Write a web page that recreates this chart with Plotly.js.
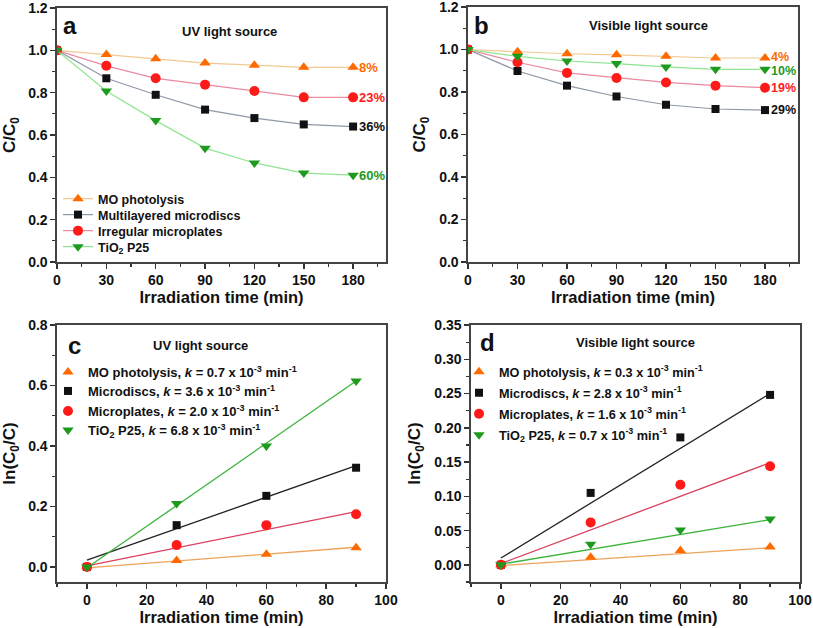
<!DOCTYPE html>
<html>
<head>
<meta charset="utf-8">
<script src="https://cdn.plot.ly/plotly-3.0.1.min.js"></script>
<style>html,body{margin:0;padding:0;background:#fff;}#chart{width:813px;height:628px;}</style>
</head>
<body>
<div id="chart"></div>
<script>
// ---------- data ----------
const time = [0, 30, 60, 90, 120, 150, 180];
const uvMO = [1.0, 0.98, 0.96, 0.94, 0.93, 0.92, 0.92];
const uvDiscs = [1.0, 0.868, 0.79, 0.72, 0.68, 0.65, 0.64];
const uvPlates = [1.0, 0.927, 0.868, 0.838, 0.808, 0.778, 0.778];
const uvP25 = [1.0, 0.808, 0.668, 0.538, 0.468, 0.42, 0.41];

const visMO = [1.0, 0.99, 0.98, 0.975, 0.968, 0.96, 0.96];
const visP25 = [1.0, 0.968, 0.946, 0.934, 0.918, 0.907, 0.907];
const visPlates = [1.0, 0.94, 0.89, 0.866, 0.845, 0.83, 0.82];
const visDiscs = [1.0, 0.899, 0.83, 0.779, 0.74, 0.72, 0.715];

const uvPct = ['8%', '23%', '36%', '60%'];
const visPct = ['4%', '10%', '19%', '29%'];

const kTime = [0, 30, 60, 90];
const uvLnMO = [0, 0.021, 0.042, 0.063];
const uvLnDiscs = [0, 0.138, 0.235, 0.328];
const uvLnPlates = [0, 0.072, 0.138, 0.174];
const uvLnP25 = [0, 0.21, 0.40, 0.615];

const fitTime = [0, 90];
const uvFitMO = [-0.003, 0.065];
const uvFitDiscs = [0.022, 0.335];
const uvFitPlates = [0.003, 0.183];
const uvFitP25 = [-0.003, 0.615];

const visLnMO = [0, 0.011, 0.021, 0.026];
const visLnDiscs = [0, 0.105, 0.186, 0.248];
const visLnPlates = [0, 0.062, 0.117, 0.144];
const visLnP25 = [0, 0.030, 0.051, 0.067];

const visFitMO = [-0.001, 0.025];
const visFitDiscs = [0.01, 0.25];
const visFitPlates = [0.002, 0.149];
const visFitP25 = [0.001, 0.066];

const legendA = ['MO photolysis', 'Multilayered microdiscs', 'Irregular microplates', 'TiO<sub>2</sub> P25'];
const legendC = [
  'MO photolysis, <i>k</i> = 0.7 x 10<sup>-3</sup> min<sup>-1</sup>',
  'Microdiscs, <i>k</i> = 3.6 x 10<sup>-3</sup> min<sup>-1</sup>',
  'Microplates, <i>k</i> = 2.0 x 10<sup>-3</sup> min<sup>-1</sup>',
  'TiO<sub>2</sub> P25, <i>k</i> = 6.8 x 10<sup>-3</sup> min<sup>-1</sup>'
];
const legendD = [
  'MO photolysis, <i>k</i> = 0.3 x 10<sup>-3</sup> min<sup>-1</sup>',
  'Microdiscs, <i>k</i> = 2.8 x 10<sup>-3</sup> min<sup>-1</sup>',
  'Microplates, <i>k</i> = 1.6 x 10<sup>-3</sup> min<sup>-1</sup>',
  'TiO<sub>2</sub> P25, <i>k</i> = 0.7 x 10<sup>-3</sup> min<sup>-1</sup>'
];

// ---------- styles ----------
const W = 813, H = 628;
const FONT = 'Liberation Sans, Arial, sans-serif';
const mkCol = {mo: '#ff6a00', discs: '#111111', plates: '#ff1a1a', p25: '#1e9a1e'};
const lnCol = {mo: '#f3c890', discs: '#8d98a8', plates: '#e98aa0', p25: '#8fe58f'};
const fitCol = {mo: '#eda35a', discs: '#222222', plates: '#d8405c', p25: '#3cb43c'};
const sym = {mo: 'triangle-up', discs: 'square', plates: 'circle', p25: 'triangle-down'};
const msize = {mo: 10, discs: 8, plates: 10, p25: 10};
const keys = ['mo', 'discs', 'plates', 'p25'];

const px = v => v / W;
const py = v => 1 - v / H;

const traces = [];
let legIdx = 0;
const layoutLegends = {};
function newLegend(xpx, ypx, fsize) {
  legIdx++;
  const id = legIdx === 1 ? 'legend' : 'legend' + legIdx;
  layoutLegends[id] = {
    x: px(xpx), y: py(ypx), xanchor: 'left', yanchor: 'middle',
    bgcolor: 'rgba(0,0,0,0)', borderwidth: 0,
    font: {family: FONT, size: fsize, color: '#111', weight: 'bold'}
  };
  return id;
}

// panel a
const aData = [uvMO, uvDiscs, uvPlates, uvP25];
const aLegY = [199, 215, 231, 247];
keys.forEach((k, i) => {
  traces.push({
    x: time, y: aData[i], xaxis: 'x', yaxis: 'y', type: 'scatter', mode: 'lines+markers',
    name: legendA[i], legend: newLegend(58, aLegY[i], 12.5),
    line: {color: lnCol[k], width: 1.2},
    marker: {color: mkCol[k], symbol: sym[k], size: msize[k]}
  });
});
// panel b
const bData = [visMO, visDiscs, visPlates, visP25];
keys.forEach((k, i) => {
  traces.push({
    x: time, y: bData[i], xaxis: 'x2', yaxis: 'y2', type: 'scatter', mode: 'lines+markers',
    showlegend: false,
    line: {color: lnCol[k], width: 1.2},
    marker: {color: mkCol[k], symbol: sym[k], size: msize[k]}
  });
});
// panel c
const cFit = [uvFitMO, uvFitDiscs, uvFitPlates, uvFitP25];
const cData = [uvLnMO, uvLnDiscs, uvLnPlates, uvLnP25];
keys.forEach((k, i) => {
  traces.push({
    x: fitTime, y: cFit[i], xaxis: 'x3', yaxis: 'y3', type: 'scatter', mode: 'lines',
    showlegend: false, line: {color: fitCol[k], width: 1.3}
  });
});
const cLegY = [372, 391, 411, 430];
keys.forEach((k, i) => {
  traces.push({
    x: kTime, y: cData[i], xaxis: 'x3', yaxis: 'y3', type: 'scatter', mode: 'markers',
    name: legendC[i], legend: newLegend(48, cLegY[i], 13),
    marker: {color: mkCol[k], symbol: sym[k], size: msize[k]}
  });
});
// panel d
const dFit = [visFitMO, visFitDiscs, visFitPlates, visFitP25];
const dData = [visLnMO, visLnDiscs, visLnPlates, visLnP25];
keys.forEach((k, i) => {
  traces.push({
    x: fitTime, y: dFit[i], xaxis: 'x4', yaxis: 'y4', type: 'scatter', mode: 'lines',
    showlegend: false, line: {color: fitCol[k], width: 1.3}
  });
});
const dLegY = [372, 393, 414, 435];
keys.forEach((k, i) => {
  traces.push({
    x: kTime, y: dData[i], xaxis: 'x4', yaxis: 'y4', type: 'scatter', mode: 'markers',
    name: legendD[i], legend: newLegend(459, dLegY[i], 12.7),
    marker: {color: mkCol[k], symbol: sym[k], size: msize[k]}
  });
});

function xAxis(dom, range, dtick, minor, anchor) {
  return {
    domain: [px(dom[0]), px(dom[1])], range: range, anchor: anchor,
    tickmode: 'linear', tick0: 0, dtick: dtick, ticklabeloverflow: 'allow',
    ticks: 'outside', ticklen: 5, tickwidth: 1.5, tickcolor: '#333',
    minor: {dtick: minor, tick0: 0, ticks: 'outside', ticklen: 3, tickwidth: 1.2, tickcolor: '#333'},
    showline: true, linecolor: '#444', linewidth: 1.6, mirror: true,
    showgrid: false, zeroline: false,
    tickfont: {family: FONT, size: 14, color: '#111', weight: 'bold'},
    title: {text: 'Irradiation time (min)', standoff: 4,
            font: {family: FONT, size: 16.5, color: '#111', weight: 'bold'}}
  };
}
function yAxis(dom, range, dtick, minor, fmt, title, anchor) {
  return {
    domain: [py(dom[1]), py(dom[0])], range: range, anchor: anchor,
    tickmode: 'linear', tick0: 0, dtick: dtick, tickformat: fmt, ticklabeloverflow: 'allow',
    ticks: 'outside', ticklen: 5, tickwidth: 1.5, tickcolor: '#333',
    minor: {dtick: minor, tick0: 0, ticks: 'outside', ticklen: 3, tickwidth: 1.2, tickcolor: '#333'},
    showline: true, linecolor: '#444', linewidth: 1.6, mirror: true,
    showgrid: false, zeroline: false,
    tickfont: {family: FONT, size: 14, color: '#111', weight: 'bold'},
    title: {text: title, standoff: 9,
            font: {family: FONT, size: 17, color: '#111', weight: 'bold'}}
  };
}

const annotations = [];
function paperText(xpx, ypx, text, size, anchor) {
  annotations.push({xref: 'paper', yref: 'paper', x: px(xpx), y: py(ypx), text: text,
    showarrow: false, xanchor: anchor || 'center', yanchor: 'middle',
    font: {family: FONT, size: size, color: '#111', weight: 'bold'}});
}
paperText(70, 26, 'a', 24);
paperText(229, 32, 'UV light source', 13);
paperText(481, 26, 'b', 24);
paperText(648, 26, 'Visible light source', 13);
paperText(74, 345, 'c', 24);
paperText(200, 345, 'UV light source', 13);
paperText(487, 342, 'd', 24);
paperText(635, 342, 'Visible light source', 13);

const aLast = [uvMO[6], uvPlates[6], uvDiscs[6], uvP25[6]];
const aPctCol = [mkCol.mo, mkCol.plates, mkCol.discs, mkCol.p25];
uvPct.forEach((t, i) => {
  annotations.push({xref: 'x', yref: 'y', x: 183.5, y: aLast[i], text: t, showarrow: false,
    xanchor: 'left', yanchor: 'middle', xshift: -2,
    font: {family: FONT, size: 13, color: aPctCol[i], weight: 'bold'}});
});
const bLast = [visMO[6], visP25[6], visPlates[6], visDiscs[6]];
const bPctCol = [mkCol.mo, mkCol.p25, mkCol.plates, mkCol.discs];
const bShift = [1.5, -1.5, 0, 0];
visPct.forEach((t, i) => {
  annotations.push({xref: 'x2', yref: 'y2', x: 183.5, y: bLast[i], text: t, showarrow: false,
    xanchor: 'left', yanchor: 'middle', xshift: -2, yshift: bShift[i],
    font: {family: FONT, size: 12.5, color: bPctCol[i], weight: 'bold'}});
});

const layout = Object.assign({
  width: W, height: H,
  margin: {l: 0, r: 0, t: 0, b: 0},
  paper_bgcolor: '#fff', plot_bgcolor: '#fff',
  font: {family: FONT, color: '#111'},
  xaxis: xAxis([57, 386], [0, 200], 30, 15, 'y'),
  yaxis: yAxis([8, 262], [0, 1.2001], 0.2, 0.1, '.1f', 'C/C<sub>0</sub>', 'x'),
  xaxis2: xAxis([468, 798], [0, 200], 30, 15, 'y2'),
  yaxis2: yAxis([7, 262], [0, 1.2001], 0.2, 0.1, '.1f', 'C/C<sub>0</sub>', 'x2'),
  xaxis3: xAxis([57, 386], [-10, 100.001], 20, 10, 'y3'),
  yaxis3: yAxis([325, 582], [-0.05, 0.8001], 0.2, 0.1, '.1f', 'ln(C<sub>0</sub>/C)', 'x3'),
  xaxis4: xAxis([471, 800], [-10, 100.001], 20, 10, 'y4'),
  yaxis4: yAxis([325, 582], [-0.025, 0.35001], 0.05, 0.025, '.2f', 'ln(C<sub>0</sub>/C)', 'x4'),
  annotations: annotations
}, layoutLegends);

Plotly.newPlot('chart', traces, layout, {displayModeBar: false, staticPlot: true});
</script>
</body>
</html>
